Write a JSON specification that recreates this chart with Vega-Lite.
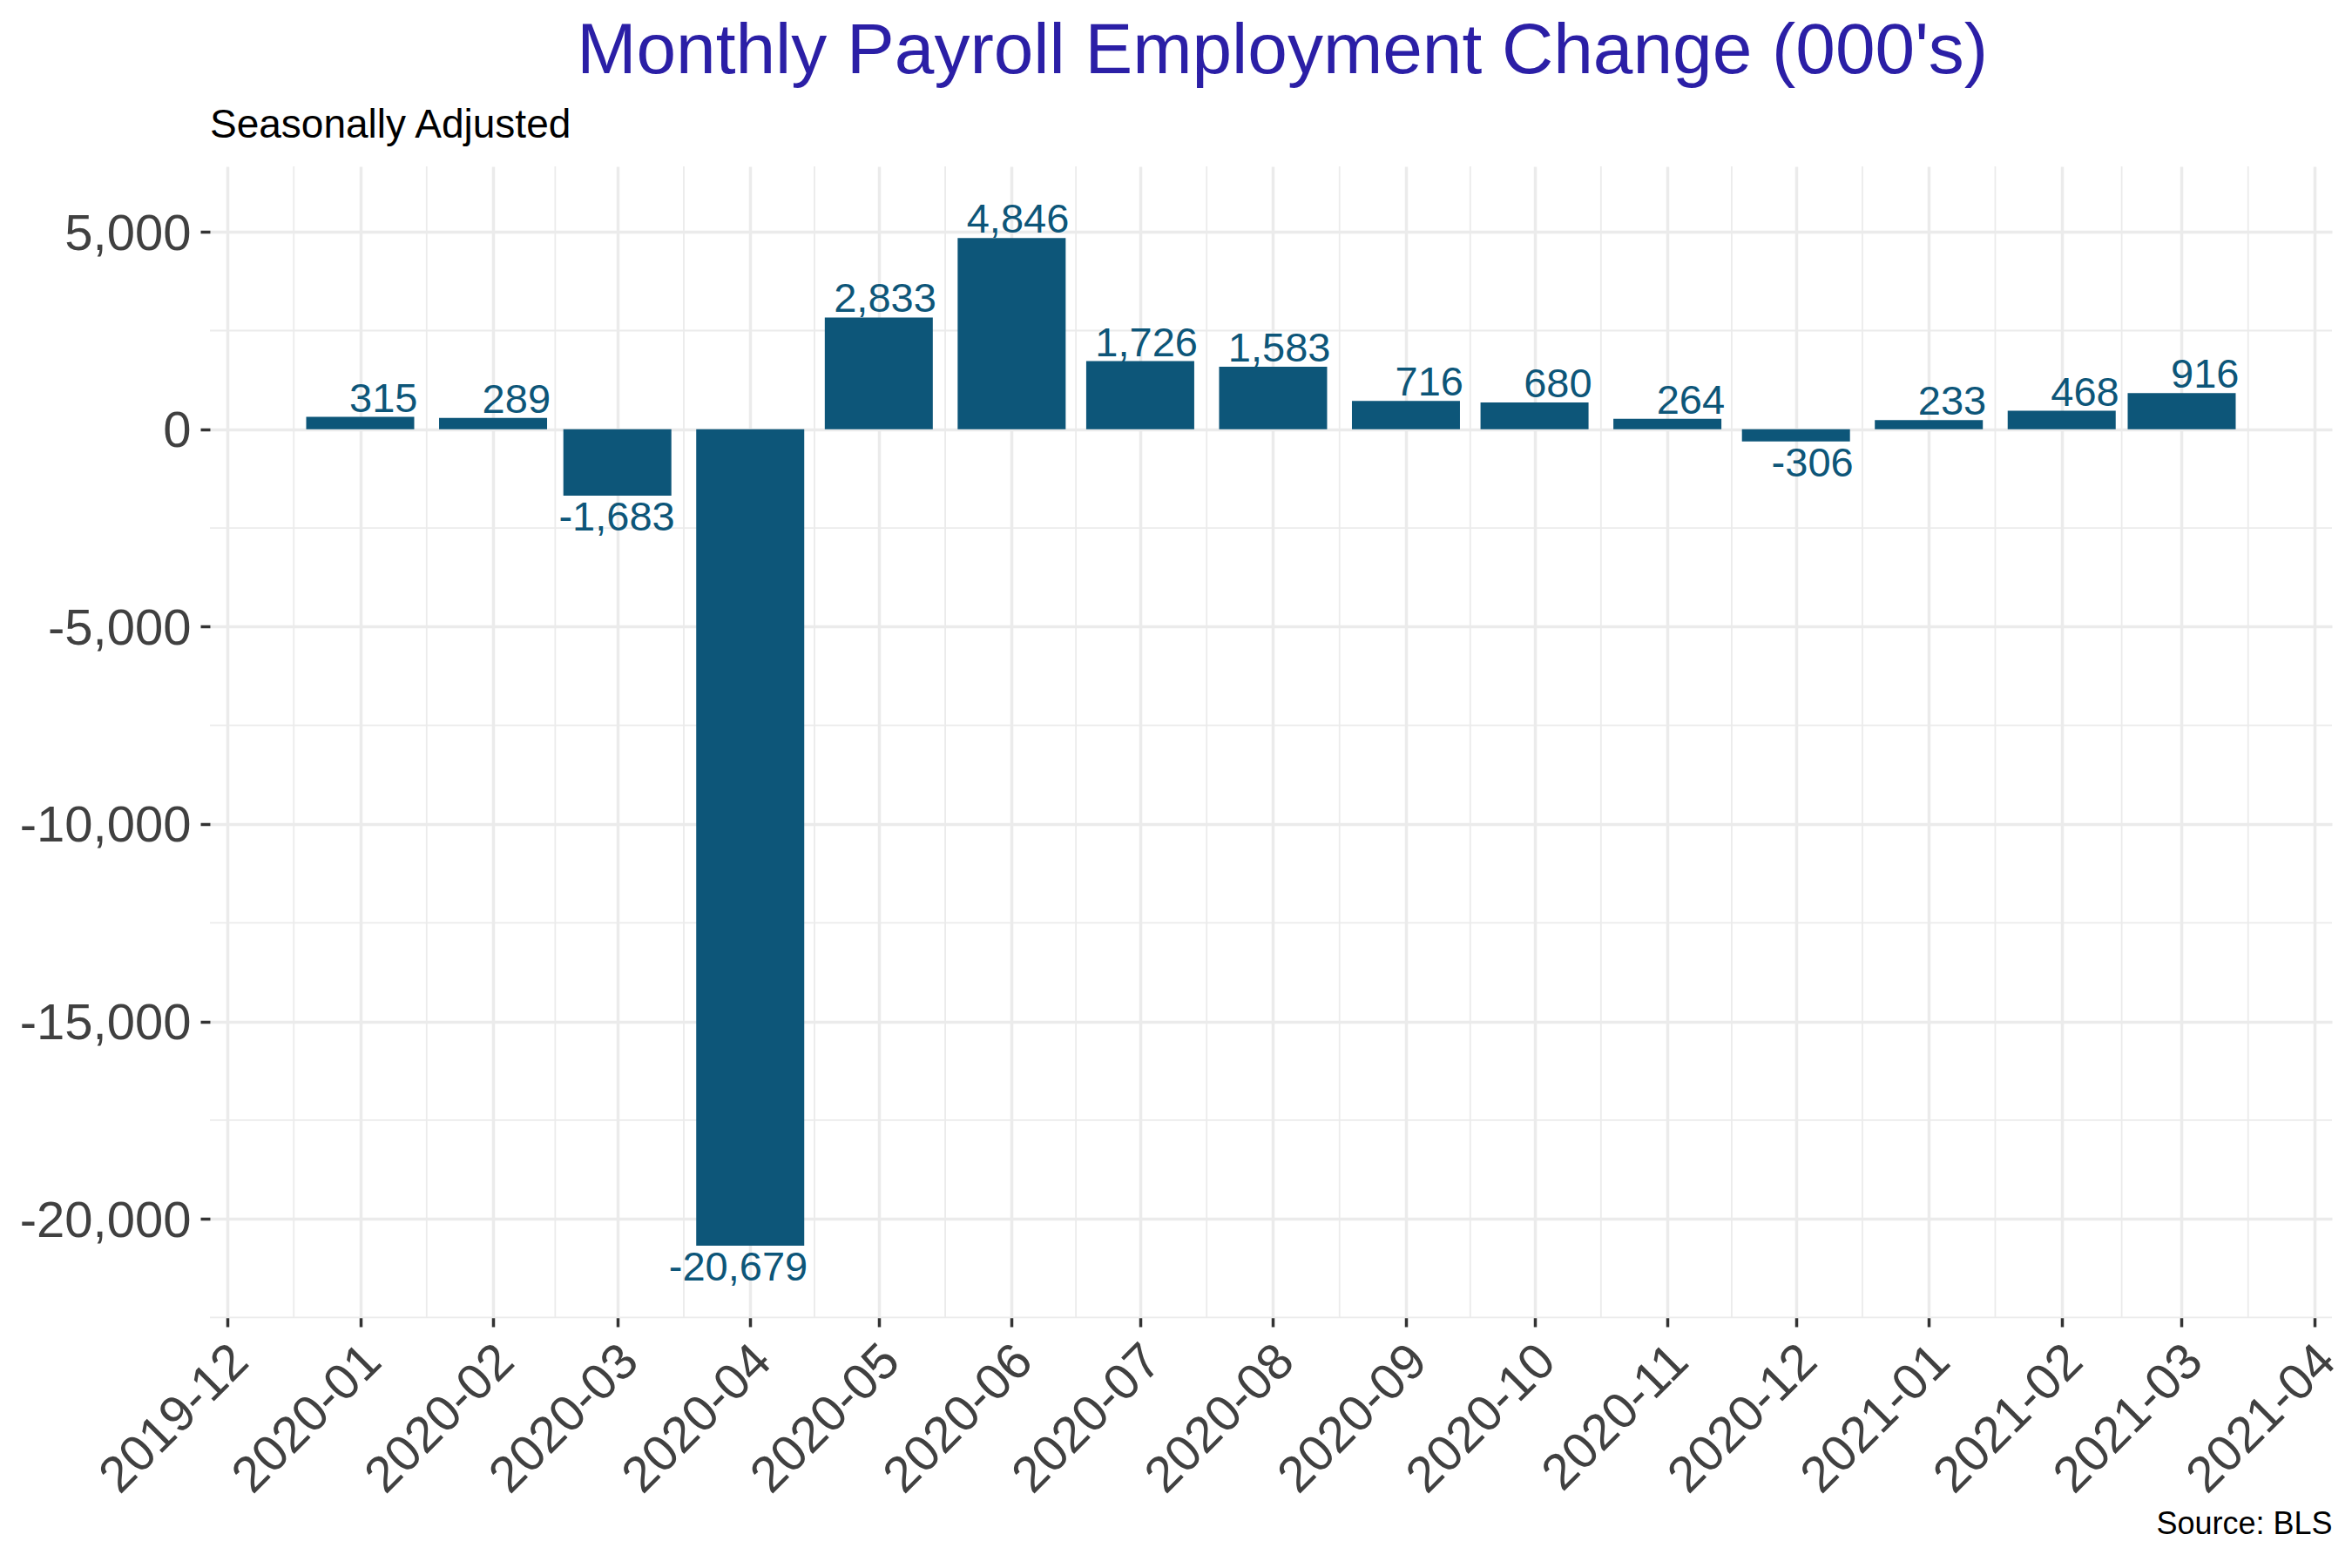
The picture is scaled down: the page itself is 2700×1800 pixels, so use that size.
{
  "$schema": "https://vega.github.io/schema/vega-lite/v6.json",
  "background": "white",
  "autosize": {"type": "pad"},
  "padding": {"left": 22, "top": 18, "right": 10, "bottom": 10},
  "title": {
    "text": "Monthly Payroll Employment Change (000's)",
    "anchor": "middle",
    "frame": "bounds",
    "dx": 115,
    "offset": 20,
    "fontSize": 82,
    "font": "Liberation Sans",
    "fontWeight": "normal",
    "color": "#2B1FA6"
  },
  "datasets": {
    "bars": [
      {"date": "2020-01-01", "value": 315},
      {"date": "2020-02-01", "value": 289},
      {"date": "2020-03-01", "value": -1683},
      {"date": "2020-04-01", "value": -20679},
      {"date": "2020-05-01", "value": 2833},
      {"date": "2020-06-01", "value": 4846},
      {"date": "2020-07-01", "value": 1726},
      {"date": "2020-08-01", "value": 1583},
      {"date": "2020-09-01", "value": 716},
      {"date": "2020-10-01", "value": 680},
      {"date": "2020-11-01", "value": 264},
      {"date": "2020-12-01", "value": -306},
      {"date": "2021-01-01", "value": 233},
      {"date": "2021-02-01", "value": 468},
      {"date": "2021-03-01", "value": 916}
    ],
    "minorx": [
      {"d": "2019-12-16T12:00:00Z"},
      {"d": "2020-01-16T12:00:00Z"},
      {"d": "2020-02-15T12:00:00Z"},
      {"d": "2020-03-16T12:00:00Z"},
      {"d": "2020-04-16T00:00:00Z"},
      {"d": "2020-05-16T12:00:00Z"},
      {"d": "2020-06-16T00:00:00Z"},
      {"d": "2020-07-16T12:00:00Z"},
      {"d": "2020-08-16T12:00:00Z"},
      {"d": "2020-09-16T00:00:00Z"},
      {"d": "2020-10-16T12:00:00Z"},
      {"d": "2020-11-16T00:00:00Z"},
      {"d": "2020-12-16T12:00:00Z"},
      {"d": "2021-01-16T12:00:00Z"},
      {"d": "2021-02-15T00:00:00Z"},
      {"d": "2021-03-16T12:00:00Z"}
    ],
    "minory": [
      {"v": -22500},
      {"v": -17500},
      {"v": -12500},
      {"v": -7500},
      {"v": -2500},
      {"v": 2500}
    ]
  },
  "vconcat": [
    {
      "width": 2436,
      "height": 1321,
      "title": {
        "text": "Seasonally Adjusted",
        "anchor": "start",
        "frame": "group",
        "offset": 22,
        "fontSize": 46,
        "font": "Liberation Sans",
        "fontWeight": "normal",
        "color": "black"
      },
      "layer": [
        {
          "data": {"name": "minorx"},
          "mark": {"type": "rule", "color": "#EBEBEB", "strokeWidth": 1.8},
          "encoding": {
            "x": {"field": "d", "type": "temporal"}
          }
        },
        {
          "data": {"name": "minory"},
          "mark": {"type": "rule", "color": "#EBEBEB", "strokeWidth": 1.8},
          "encoding": {
            "y": {"field": "v", "type": "quantitative"}
          }
        },
        {
          "data": {"name": "bars"},
          "mark": {"type": "bar", "color": "#0D5679", "width": 124},
          "encoding": {
            "x": {
              "field": "date",
              "type": "temporal",
              "scale": {
                "type": "utc",
                "nice": false,
                "padding": 0,
                "domain": [
                  {"year": 2019, "month": 11, "date": 26, "hours": 22, "minutes": 30, "utc": true},
                  {"year": 2021, "month": 4, "date": 5, "hours": 1, "minutes": 30, "utc": true}
                ]
              },
              "axis": {
                "title": "Source: BLS",
                "titleFontSize": 36,
                "titleFont": "Liberation Sans",
                "titleFontWeight": "normal",
                "titleColor": "black",
                "titleAnchor": "end",
                "titlePadding": 20,
                "format": "%Y-%m",
                "tickCount": {"interval": "month", "step": 1},
                "labelAngle": -45,
                "labelAlign": "right",
                "labelBaseline": "top",
                "labelFontSize": 58,
                "labelFont": "Liberation Sans",
                "labelColor": "#404040",
                "labelPadding": 10,
                "labelOffset": -6,
                "labelLimit": 0,
                "labelFlush": false,
                "labelOverlap": false,
                "labelBound": false,
                "tickSize": 11,
                "tickWidth": 3.5,
                "tickColor": "#333333",
                "domain": false,
                "grid": true,
                "gridColor": "#EBEBEB",
                "gridWidth": 3.5
              }
            },
            "y": {
              "field": "value",
              "type": "quantitative",
              "scale": {"domain": [-22490, 6660], "nice": false, "zero": false, "padding": 0},
              "axis": {
                "title": null,
                "values": [-20000, -15000, -10000, -5000, 0, 5000],
                "format": ",d",
                "labelFontSize": 58,
                "labelFont": "Liberation Sans",
                "labelColor": "#404040",
                "labelPadding": 11,
                "labelOffset": 3,
                "labelLimit": 0,
                "tickSize": 11,
                "tickWidth": 3.5,
                "tickColor": "#333333",
                "domain": false,
                "grid": true,
                "gridColor": "#EBEBEB",
                "gridWidth": 3.5
              }
            }
          }
        },
        {
          "data": {"name": "bars"},
          "transform": [{"filter": "datum.value >= 0"}],
          "mark": {"type": "text", "align": "right", "baseline": "alphabetic", "dx": 66, "dy": -6, "fontSize": 47, "font": "Liberation Sans", "color": "#0D5679"},
          "encoding": {
            "x": {"field": "date", "type": "temporal"},
            "y": {"field": "value", "type": "quantitative"},
            "text": {"field": "value", "type": "quantitative", "format": ","}
          }
        },
        {
          "data": {"name": "bars"},
          "transform": [{"filter": "datum.value < 0"}],
          "mark": {"type": "text", "align": "right", "baseline": "alphabetic", "dx": 66, "dy": 40, "fontSize": 47, "font": "Liberation Sans", "color": "#0D5679"},
          "encoding": {
            "x": {"field": "date", "type": "temporal"},
            "y": {"field": "value", "type": "quantitative"},
            "text": {"field": "value", "type": "quantitative", "format": ","}
          }
        }
      ]
    }
  ],
  "config": {
    "view": {"stroke": null},
    "font": "Liberation Sans",
    "locale": {
      "number": {"decimal": ".", "thousands": ",", "grouping": [3], "currency": ["$", ""], "minus": "-"}
    }
  }
}
